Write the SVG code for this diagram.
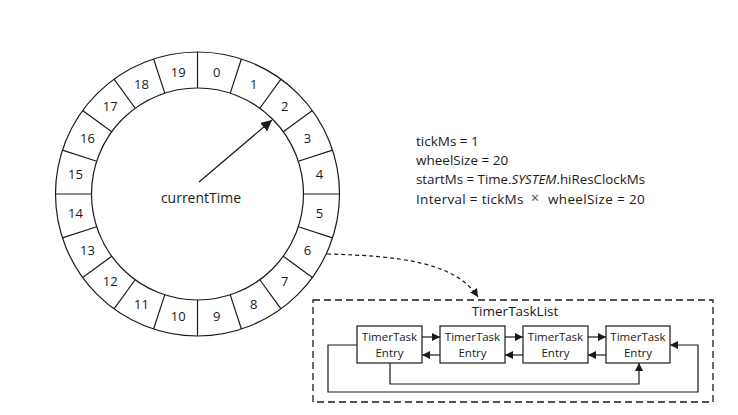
<svg xmlns="http://www.w3.org/2000/svg" width="738" height="415" viewBox="0 0 738 415">
<style>
.ln{stroke:#1a1a1a;stroke-width:1.2;fill:none}
.t{font-family:"Open Sans","Liberation Sans",sans-serif;fill:#1a1a1a}
.num{font-size:13px;text-anchor:middle}
.ent{font-size:11.5px;text-anchor:middle}
.info{font-size:13.5px}
</style>
<defs>
<marker id="ah" viewBox="0 0 10 10" refX="10" refY="5" markerWidth="8" markerHeight="8" markerUnits="userSpaceOnUse" orient="auto">
<path d="M0,0 L10,5 L0,10 z" fill="#1a1a1a"/>
</marker>
<marker id="ahL" viewBox="0 0 10 10" refX="10" refY="5" markerWidth="11" markerHeight="11" markerUnits="userSpaceOnUse" orient="auto">
<path d="M0,0 L10,5 L0,10 z" fill="#1a1a1a"/>
</marker>
</defs>
<rect width="738" height="415" fill="#ffffff"/>

<g id="wheel">
<circle class="ln" cx="197.5" cy="194" r="142"/>
<circle class="ln" cx="197.5" cy="194" r="106"/>
<g transform="translate(197.5,194)">
<line class="ln" x1="0" y1="-106" x2="0" y2="-142" transform="rotate(0)"/>
<line class="ln" x1="0" y1="-106" x2="0" y2="-142" transform="rotate(18)"/>
<line class="ln" x1="0" y1="-106" x2="0" y2="-142" transform="rotate(36)"/>
<line class="ln" x1="0" y1="-106" x2="0" y2="-142" transform="rotate(54)"/>
<line class="ln" x1="0" y1="-106" x2="0" y2="-142" transform="rotate(72)"/>
<line class="ln" x1="0" y1="-106" x2="0" y2="-142" transform="rotate(90)"/>
<line class="ln" x1="0" y1="-106" x2="0" y2="-142" transform="rotate(108)"/>
<line class="ln" x1="0" y1="-106" x2="0" y2="-142" transform="rotate(126)"/>
<line class="ln" x1="0" y1="-106" x2="0" y2="-142" transform="rotate(144)"/>
<line class="ln" x1="0" y1="-106" x2="0" y2="-142" transform="rotate(162)"/>
<line class="ln" x1="0" y1="-106" x2="0" y2="-142" transform="rotate(180)"/>
<line class="ln" x1="0" y1="-106" x2="0" y2="-142" transform="rotate(198)"/>
<line class="ln" x1="0" y1="-106" x2="0" y2="-142" transform="rotate(216)"/>
<line class="ln" x1="0" y1="-106" x2="0" y2="-142" transform="rotate(234)"/>
<line class="ln" x1="0" y1="-106" x2="0" y2="-142" transform="rotate(252)"/>
<line class="ln" x1="0" y1="-106" x2="0" y2="-142" transform="rotate(270)"/>
<line class="ln" x1="0" y1="-106" x2="0" y2="-142" transform="rotate(288)"/>
<line class="ln" x1="0" y1="-106" x2="0" y2="-142" transform="rotate(306)"/>
<line class="ln" x1="0" y1="-106" x2="0" y2="-142" transform="rotate(324)"/>
<line class="ln" x1="0" y1="-106" x2="0" y2="-142" transform="rotate(342)"/>
</g>
<g class="t num">
<text x="216.8" y="76.6">0</text>
<text x="253.6" y="88.6">1</text>
<text x="284.8" y="111.3">2</text>
<text x="307.5" y="142.5">3</text>
<text x="319.5" y="179.3">4</text>
<text x="319.5" y="217.9">5</text>
<text x="307.5" y="254.7">6</text>
<text x="284.8" y="285.9">7</text>
<text x="253.6" y="308.6">8</text>
<text x="216.8" y="320.6">9</text>
<text x="178.2" y="320.6">10</text>
<text x="141.4" y="308.6">11</text>
<text x="110.2" y="285.9">12</text>
<text x="87.5" y="254.7">13</text>
<text x="75.5" y="217.9">14</text>
<text x="75.5" y="179.3">15</text>
<text x="87.5" y="142.5">16</text>
<text x="110.2" y="111.3">17</text>
<text x="141.4" y="88.6">18</text>
<text x="178.2" y="76.6">19</text>
</g>
<text class="t" x="201" y="203" font-size="14" text-anchor="middle">currentTime</text>
</g>

<g id="info" class="t info">
<text x="416" y="146">tickMs = 1</text>
<text x="416" y="165">wheelSize = 20</text>
<text x="416" y="184" textLength="229" lengthAdjust="spacingAndGlyphs">startMs = Time.<tspan font-style="italic">SYSTEM</tspan>.hiResClockMs</text>
<text x="416" y="204"><tspan letter-spacing="0.3">Interval = tickMs</tspan><tspan x="531" y="203" font-size="14" fill="#444">×</tspan><tspan x="548" y="204" letter-spacing="0.35">wheelSize = 20</tspan></text>
</g>

<g id="timerTaskList">
<rect x="313" y="300" width="400" height="102" fill="none" stroke="#1a1a1a" stroke-width="1.3" stroke-dasharray="7,4"/>
<text class="t" x="515" y="316" font-size="13.5" text-anchor="middle">TimerTaskList</text>
</g>

<g id="entry1">
<rect class="ln" x="357" y="326" width="65" height="37"/>
<text class="t ent" x="389.5" y="341">TimerTask</text>
<text class="t ent" x="389.5" y="357">Entry</text>
</g>
<g id="entry2">
<rect class="ln" x="440" y="326" width="65" height="37"/>
<text class="t ent" x="472.5" y="341">TimerTask</text>
<text class="t ent" x="472.5" y="357">Entry</text>
</g>
<g id="entry3">
<rect class="ln" x="523" y="326" width="65" height="37"/>
<text class="t ent" x="555.5" y="341">TimerTask</text>
<text class="t ent" x="555.5" y="357">Entry</text>
</g>
<g id="entry4">
<rect class="ln" x="606" y="326" width="64" height="37"/>
<text class="t ent" x="638" y="341">TimerTask</text>
<text class="t ent" x="638" y="357">Entry</text>
</g>

<g id="connectors">
<line class="ln" x1="199" y1="182" x2="272" y2="120" marker-end="url(#ahL)"/>
<path class="ln" d="M327,254 C400,256 455,262 478,297" stroke-dasharray="4,3" marker-end="url(#ah)"/>
<line class="ln" x1="422" y1="337" x2="440" y2="337" marker-end="url(#ah)"/>
<line class="ln" x1="505" y1="337" x2="523" y2="337" marker-end="url(#ah)"/>
<line class="ln" x1="588" y1="337" x2="606" y2="337" marker-end="url(#ah)"/>
<line class="ln" x1="440" y1="355" x2="422" y2="355" marker-end="url(#ah)"/>
<line class="ln" x1="523" y1="355" x2="505" y2="355" marker-end="url(#ah)"/>
<line class="ln" x1="606" y1="355" x2="588" y2="355" marker-end="url(#ah)"/>
<path class="ln" d="M390,363 V384 H639 V363" marker-end="url(#ah)"/>
<path class="ln" d="M357,345 H328 V392 H698 V345 H670" marker-end="url(#ah)"/>
</g>
</svg>
